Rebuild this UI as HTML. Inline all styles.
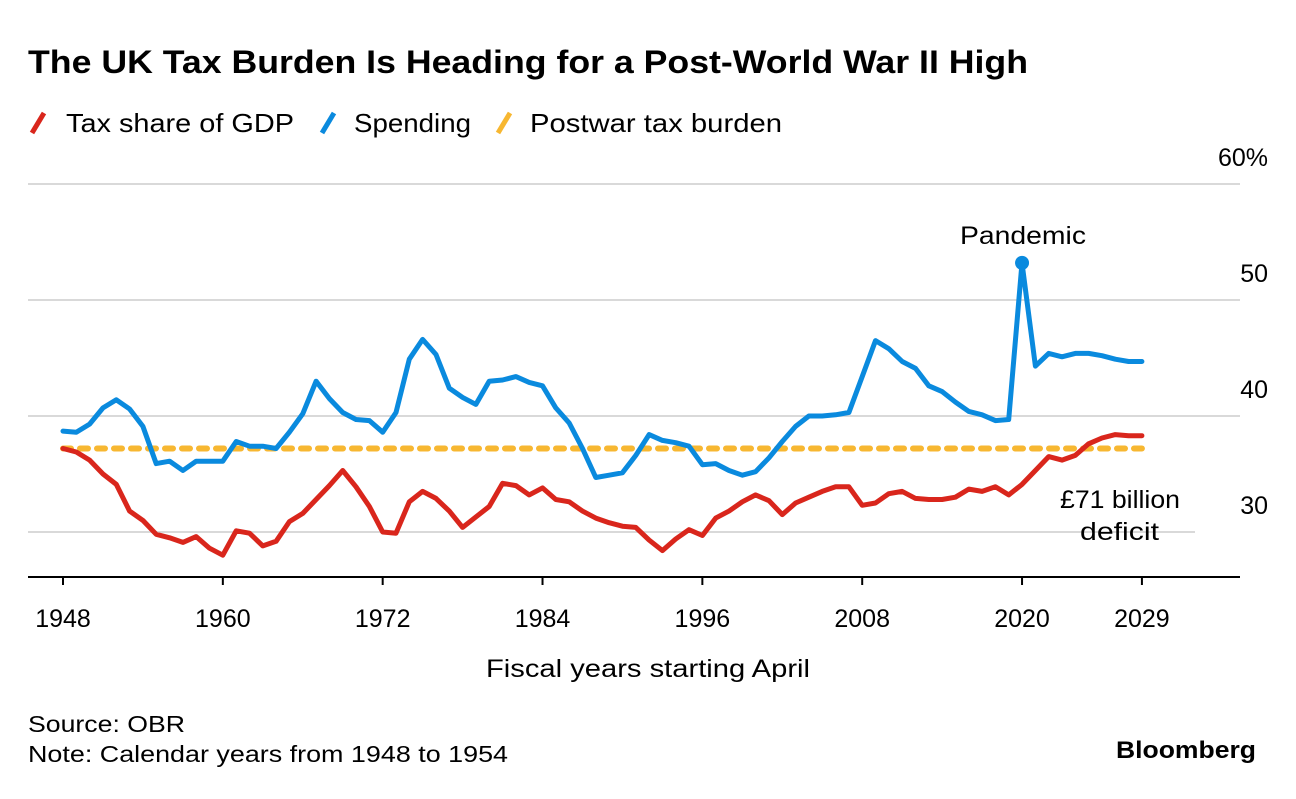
<!DOCTYPE html>
<html><head><meta charset="utf-8">
<style>
body{margin:0;background:#fff;font-family:"Liberation Sans",Arial,sans-serif;}
svg text{font-family:"Liberation Sans",Arial,sans-serif;}
</style></head>
<body>
<svg width="1296" height="794" xmlns="http://www.w3.org/2000/svg">
<text x="28" y="73" font-size="32" font-weight="bold" fill="#000" textLength="1000" lengthAdjust="spacingAndGlyphs">The UK Tax Burden Is Heading for a Post-World War II High</text>
<g>
 <line x1="32" y1="133" x2="44" y2="113" stroke="#d9261c" stroke-width="5"/>
 <text x="66" y="132" font-size="26" textLength="228" lengthAdjust="spacingAndGlyphs">Tax share of GDP</text>
 <line x1="322" y1="133" x2="334" y2="113" stroke="#0a8ade" stroke-width="5"/>
 <text x="354" y="132" font-size="26" textLength="117" lengthAdjust="spacingAndGlyphs">Spending</text>
 <line x1="498" y1="133" x2="510" y2="113" stroke="#f7b731" stroke-width="5"/>
 <text x="530" y="132" font-size="26" textLength="252" lengthAdjust="spacingAndGlyphs">Postwar tax burden</text>
</g>
<g id="grid"></g>
<g id="plot"></g>
<text x="960" y="244" font-size="25" textLength="126" lengthAdjust="spacingAndGlyphs">Pandemic</text>
<text x="1060" y="508" font-size="25" textLength="120" lengthAdjust="spacingAndGlyphs">£71 billion</text>
<text x="1080" y="540" font-size="25" textLength="79" lengthAdjust="spacingAndGlyphs">deficit</text>
<text x="486" y="677" font-size="25" textLength="324" lengthAdjust="spacingAndGlyphs">Fiscal years starting April</text>
<text x="28" y="732" font-size="23" textLength="157" lengthAdjust="spacingAndGlyphs">Source: OBR</text>
<text x="28" y="762" font-size="23" textLength="480" lengthAdjust="spacingAndGlyphs">Note: Calendar years from 1948 to 1954</text>
<text x="1116" y="758" font-size="24" font-weight="bold" textLength="140" lengthAdjust="spacingAndGlyphs">Bloomberg</text>
</svg>
<script>
const startYear = 1948;
const spending = [38.7,38.6,39.3,40.7,41.4,40.6,39.1,35.9,36.1,35.3,36.1,36.1,36.1,37.8,37.4,37.4,37.2,38.6,40.2,43.0,41.5,40.3,39.7,39.6,38.6,40.3,44.9,46.6,45.3,42.4,41.6,41.0,43.0,43.1,43.4,42.9,42.6,40.7,39.4,37.2,34.7,34.9,35.1,36.6,38.4,37.9,37.7,37.4,35.8,35.9,35.3,34.9,35.2,36.4,37.8,39.1,40.0,40.0,40.1,40.3,43.4,46.5,45.8,44.7,44.1,42.6,42.1,41.2,40.4,40.1,39.6,39.7,53.2,44.3,45.4,45.1,45.4,45.4,45.2,44.9,44.7,44.7];
const tax = [37.2,36.9,36.2,35.0,34.1,31.8,31.0,29.8,29.5,29.1,29.6,28.6,28.0,30.1,29.9,28.8,29.2,30.9,31.6,32.8,34.0,35.3,33.9,32.2,30.0,29.9,32.6,33.5,32.9,31.8,30.4,31.3,32.2,34.2,34.0,33.2,33.8,32.8,32.6,31.8,31.2,30.8,30.5,30.4,29.3,28.4,29.4,30.2,29.7,31.2,31.8,32.6,33.2,32.7,31.5,32.5,33.0,33.5,33.9,33.9,32.3,32.5,33.3,33.5,32.9,32.8,32.8,33.0,33.7,33.5,33.9,33.2,34.1,35.3,36.5,36.2,36.6,37.6,38.1,38.4,38.3,38.3];
const postwar = [37.2];
const yTicks = [30,40,50,60];
const yTickLabels = ["30","40","50","60%"];
const xTicks = [1948,1960,1972,1984,1996,2008,2020,2029];
const pandemicYear = [2020];

const NS="http://www.w3.org/2000/svg";
const X = yr => 63 + (yr-1948)*13.32;
const Y = v => 532 - (v-30)*11.6;
const grid=document.getElementById('grid'), plot=document.getElementById('plot');
function mk(tag,attrs,parent){const e=document.createElementNS(NS,tag);for(const k in attrs)e.setAttribute(k,attrs[k]);parent.appendChild(e);return e;}

yTicks.forEach((t,i)=>{
  const l=mk('line',{x1:28,x2:t===30?1195:1240,y1:Y(t),y2:Y(t),stroke:'#d9d9d9','stroke-width':2},grid);
  
  
  const tx=mk('text',{x:1268,y:Y(t)-18,'font-size':25,'text-anchor':'end'},grid);
  tx.textContent=yTickLabels[i];
  
  
});
const ax=mk('line',{x1:28,x2:1240,y1:577,y2:577,stroke:'#000','stroke-width':2},grid);


xTicks.forEach(t=>{
  const tk=mk('line',{x1:X(t),x2:X(t),y1:577,y2:585,stroke:'#000','stroke-width':2},grid);
  
  
  const tx=mk('text',{x:X(t),y:627,'font-size':25,'text-anchor':'middle'},grid);
  tx.textContent=t;
  
  
});
const lastYear=startYear+tax.length-1;
const pw=mk('line',{x1:X(startYear),x2:X(lastYear),y1:Y(postwar[0]),y2:Y(postwar[0]),stroke:'#f7b731','stroke-width':6,'stroke-dasharray':'8 9','stroke-linecap':'round'},plot);


function line(arr,color,name){
  const d=arr.map((v,i)=>(i?'L':'M')+X(startYear+i).toFixed(1)+','+Y(v).toFixed(1)).join('');
  const p=mk('path',{d:d,fill:'none',stroke:color,'stroke-width':5,'stroke-linejoin':'round','stroke-linecap':'round'},plot);
  
  
}
line(spending,'#0a8ade','spending-line');
line(tax,'#d9261c','tax-share-line');
const pv=spending[pandemicYear[0]-startYear];
const c=mk('circle',{cx:X(pandemicYear[0]),cy:Y(pv),r:7,fill:'#0a8ade'},plot);


</script>
</body></html>
